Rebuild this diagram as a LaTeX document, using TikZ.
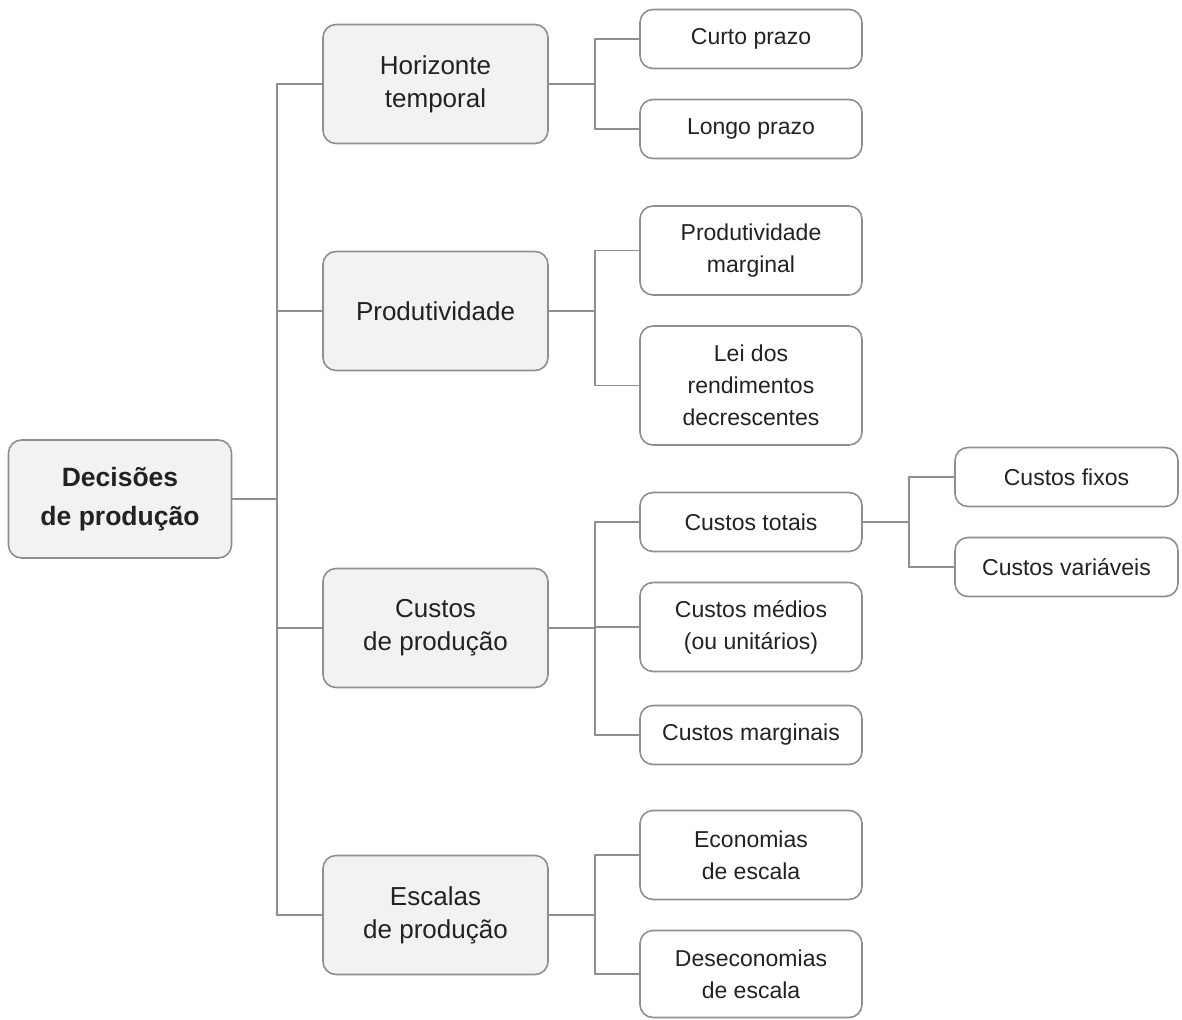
\documentclass[tikz,border=0pt]{standalone}
\usepackage{fontspec}
\setmainfont{Liberation Sans}
\begin{document}
\begin{tikzpicture}[x=1pt,y=-1pt,
  base/.style={rectangle, rounded corners=13pt, draw=linegray, line width=1.6pt, align=center, inner sep=0pt, text=txt},
  rootbox/.style={base, fill=boxfill, minimum width=223pt, minimum height=118pt, font=\fontsize{26.5}{39}\selectfont\bfseries},
  lvlone/.style={base, fill=boxfill, minimum width=225pt, minimum height=119pt, font=\fontsize{26}{33}\selectfont},
  lvltwo/.style={base, fill=white, minimum width=222pt, font=\fontsize{23}{32}\selectfont},
  conn/.style={draw=linegray, line width=1.6pt}
]
\definecolor{linegray}{HTML}{8F8F8F}
\definecolor{boxfill}{HTML}{F1F2F4}
\definecolor{txt}{HTML}{222222}
\useasboundingbox (0,0) rectangle (1182,1019);

% trunk x coordinates
\coordinate (ta) at (277,0);
\coordinate (tb) at (595,0);
\coordinate (tc) at (909,0);

\node[rootbox] (root) at (120,499) {Decisões\\de produção};

\node[lvlone] (hor) at (435.5,84) {Horizonte\\temporal};
\node[lvlone] (prod) at (435.5,311) {Produtividade};
\node[lvlone] (cust) at (435.5,628) {Custos\\de produção};
\node[lvlone] (esc) at (435.5,915) {Escalas\\de produção};

\node[lvltwo, minimum height=59pt] (curto) at (751,39) {Curto prazo};
\node[lvltwo, minimum height=59pt] (longo) at (751,129) {Longo prazo};
\node[lvltwo, minimum height=89pt] (pmarg) at (751,250.5) {Produtividade\\marginal};
\node[lvltwo, minimum height=119pt] (lei) at (751,385.5) {Lei dos\\rendimentos\\decrescentes};
\node[lvltwo, minimum height=59pt] (ctot) at (751,522) {Custos totais};
\node[lvltwo, minimum height=89pt] (cmed) at (751,627) {Custos médios\\(ou unitários)};
\node[lvltwo, minimum height=59pt] (cmarg) at (751,735) {Custos marginais};
\node[lvltwo, minimum height=89pt] (econ) at (751,855) {Economias\\de escala};
\node[lvltwo, minimum height=87pt] (desec) at (751,974) {Deseconomias\\de escala};

\node[lvltwo, minimum width=223pt, minimum height=59pt] (cfix) at (1066.5,477) {Custos fixos};
\node[lvltwo, minimum width=223pt, minimum height=59pt] (cvar) at (1066.5,567) {Custos variáveis};

% root connectors
\draw[conn] (root.east) -- (root.east -| ta);
\draw[conn] (hor.west) -- (hor.west -| ta) |- (esc.west);
\draw[conn] (prod.west) -- (prod.west -| ta);
\draw[conn] (cust.west) -- (cust.west -| ta);

% horizonte
\draw[conn] (hor.east) -- (hor.east -| tb);
\draw[conn] (curto.west) -- (curto.west -| tb) |- (longo.west);
% produtividade
\draw[conn] (prod.east) -- (prod.east -| tb);
\draw[conn] (pmarg.west) -- (pmarg.west -| tb) |- (lei.west);
% custos
\draw[conn] (cust.east) -- (cust.east -| tb);
\draw[conn] (ctot.west) -- (ctot.west -| tb) |- (cmarg.west);
\draw[conn] (cmed.west) -- (cmed.west -| tb);
% escalas
\draw[conn] (esc.east) -- (esc.east -| tb);
\draw[conn] (econ.west) -- (econ.west -| tb) |- (desec.west);
% custos totais
\draw[conn] (ctot.east) -- (ctot.east -| tc);
\draw[conn] (cfix.west) -- (cfix.west -| tc) |- (cvar.west);
\end{tikzpicture}
\end{document}
